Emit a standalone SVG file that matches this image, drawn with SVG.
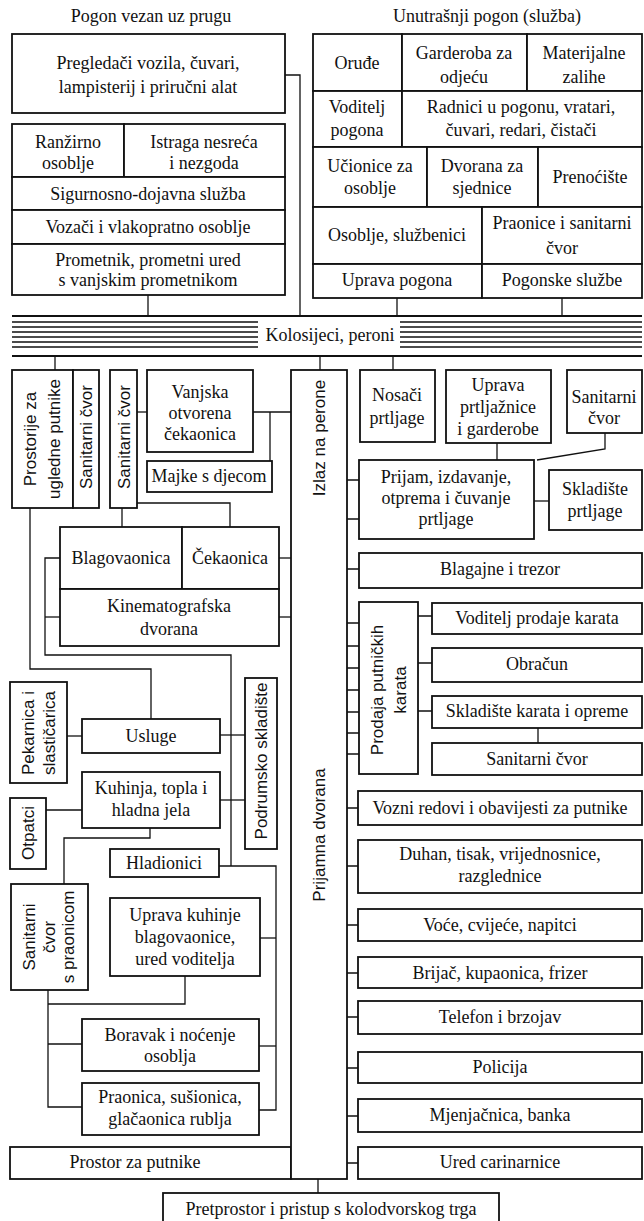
<svg xmlns="http://www.w3.org/2000/svg" width="644" height="1221" viewBox="0 0 644 1221">
<style>
.b{fill:#fff;stroke:#111;stroke-width:1.8}
.c{fill:none;stroke:#111;stroke-width:1.3}
.r{fill:none;stroke:#111;stroke-width:1.4}
.R{fill:none;stroke:#111;stroke-width:2}
.t{font-family:"Liberation Serif","Times New Roman",serif;font-size:18px;fill:#111;text-anchor:middle}
.v{font-family:"Liberation Sans",Arial,sans-serif;font-size:17px;fill:#111;text-anchor:middle;dominant-baseline:central}
</style>
<rect width="644" height="1221" fill="#fff"/>
<text class="t" x="151" y="22">Pogon vezan uz prugu</text>
<text class="t" x="487" y="22">Unutrašnji pogon (služba)</text>

<g id="connectors">
<path class="c" d="M285,75H300V316"/>
<path class="c" d="M148,295V316"/>
<path class="c" d="M397,298V316"/>
<path class="c" d="M562,298V316"/>
<path class="c" d="M55,356V370"/>
<path class="c" d="M320,356V370"/>
<path class="c" d="M393,356V370"/>
<path class="c" d="M137,412H147"/>
<path class="c" d="M253,412H291"/>
<path class="c" d="M270,412V461"/>
<path class="c" d="M122,508V527"/>
<path class="c" d="M137,503H230V527"/>
<path class="c" d="M279,558H291"/>
<path class="c" d="M279,617H291"/>
<path class="c" d="M60,558H45V655H231V866"/>
<path class="c" d="M60,617H45"/>
<path class="c" d="M30,508V669H151V719"/>
<path class="c" d="M67,736H82"/>
<path class="c" d="M220,735H245"/>
<path class="c" d="M220,800H245"/>
<path class="c" d="M46,810H82"/>
<path class="c" d="M150,828V838H64V884"/>
<path class="c" d="M219,866H276V1110H259"/>
<path class="c" d="M260,938H276"/>
<path class="c" d="M259,1046H276"/>
<path class="c" d="M185,976V1004H48"/>
<path class="c" d="M48,990V1107H82"/>
<path class="c" d="M48,1044H82"/>
<path class="c" d="M497,443V460"/>
<path class="c" d="M605,433V449L537,460"/>
<path class="c" d="M534,501H549"/>
<path class="c" d="M418,616H432M418,663H432M418,711H432"/>
<path class="c" d="M538,728V743"/>
<path class="c" d="M318,1179V1193"/>
<path class="c" d="M347,480H359M347,519H359M347,569H359M347,623H359M347,646H359M347,668H359M347,690H359M347,712H359M347,733H359M347,754H359M347,808H358M347,866H358M347,925H358M347,973H358M347,1017H358M347,1068H358M347,1116H358M347,1163H358"/>
</g>

<g id="tracks">
<path class="R" d="M12,316H642M12,356H642"/>
<path class="r" d="M12,322H258M12,327H258M12,332H258M12,337H258M12,342H258M12,347H258M400,322H642M400,327H642M400,332H642M400,337H642M400,342H642M400,347H642"/>
<text class="t" x="330" y="341">Kolosijeci, peroni</text>
</g>

<g id="pregledaci"><rect class="b" x="12" y="34" width="273" height="79"/><text class="t" x="148" y="69">Pregledači vozila, čuvari,</text><text class="t" x="148" y="93">lampisterij i priručni alat</text></g>
<g id="ranzirno"><rect class="b" x="12" y="124" width="112" height="53"/><text class="t" x="68" y="148">Ranžirno</text><text class="t" x="68" y="169">osoblje</text></g>
<g id="istraga"><rect class="b" x="124" y="124" width="161" height="53"/><text class="t" x="204" y="148">Istraga nesreća</text><text class="t" x="204" y="169">i nezgoda</text></g>
<g id="sigurnosno"><rect class="b" x="12" y="177" width="273" height="33"/><text class="t" x="148" y="200">Sigurnosno-dojavna služba</text></g>
<g id="vozaci"><rect class="b" x="12" y="210" width="273" height="34"/><text class="t" x="148" y="233">Vozači i vlakopratno osoblje</text></g>
<g id="prometnik"><rect class="b" x="12" y="244" width="273" height="51"/><text class="t" x="148" y="266">Prometnik, prometni ured</text><text class="t" x="148" y="286">s vanjskim prometnikom</text></g>

<g id="orudje"><rect class="b" x="313" y="34" width="89" height="57"/><text class="t" x="357" y="69">Oruđe</text></g>
<g id="garderoba"><rect class="b" x="402" y="34" width="125" height="57"/><text class="t" x="464" y="59">Garderoba za</text><text class="t" x="464" y="83">odjeću</text></g>
<g id="materijalne"><rect class="b" x="527" y="34" width="115" height="57"/><text class="t" x="584" y="59">Materijalne</text><text class="t" x="584" y="83">zalihe</text></g>
<g id="voditelj-pogona"><rect class="b" x="313" y="91" width="89" height="56"/><text class="t" x="357" y="113">Voditelj</text><text class="t" x="357" y="136">pogona</text></g>
<g id="radnici"><rect class="b" x="402" y="91" width="240" height="56"/><text class="t" x="521" y="113">Radnici u pogonu, vratari,</text><text class="t" x="521" y="136">čuvari, redari, čistači</text></g>
<g id="ucionice"><rect class="b" x="313" y="147" width="114" height="60"/><text class="t" x="370" y="172">Učionice za</text><text class="t" x="370" y="194">osoblje</text></g>
<g id="dvorana-sjednice"><rect class="b" x="427" y="147" width="111" height="60"/><text class="t" x="482" y="172">Dvorana za</text><text class="t" x="482" y="194">sjednice</text></g>
<g id="prenociste"><rect class="b" x="538" y="147" width="104" height="60"/><text class="t" x="590" y="183">Prenoćište</text></g>
<g id="osoblje-sluzbenici"><rect class="b" x="313" y="207" width="169" height="57"/><text class="t" x="397" y="241">Osoblje, službenici</text></g>
<g id="praonice-sanitarni"><rect class="b" x="482" y="207" width="160" height="57"/><text class="t" x="562" y="229">Praonice i sanitarni</text><text class="t" x="562" y="254">čvor</text></g>
<g id="uprava-pogona"><rect class="b" x="313" y="264" width="169" height="34"/><text class="t" x="397" y="286">Uprava pogona</text></g>
<g id="pogonske-sluzbe"><rect class="b" x="482" y="264" width="160" height="34"/><text class="t" x="562" y="286">Pogonske službe</text></g>

<g id="prostorije"><rect class="b" x="12" y="370" width="61" height="138"/><text class="v" transform="translate(30,439) rotate(-90)">Prostorije za</text><text class="v" transform="translate(54,439) rotate(-90)">ugledne putnike</text></g>
<g id="sanitarni-1"><rect class="b" x="73" y="370" width="26" height="138"/><text class="v" transform="translate(86,437) rotate(-90)">Sanitarni čvor</text></g>
<g id="sanitarni-2"><rect class="b" x="110" y="370" width="27" height="138"/><text class="v" transform="translate(124,437) rotate(-90)">Sanitarni čvor</text></g>
<g id="vanjska"><rect class="b" x="147" y="370" width="106" height="82"/><text class="t" x="200" y="398">Vanjska</text><text class="t" x="200" y="419">otvorena</text><text class="t" x="200" y="440">čekaonica</text></g>
<g id="majke"><rect class="b" x="147" y="461" width="125" height="31"/><text class="t" x="209" y="482">Majke s djecom</text></g>
<g id="blagovaonica"><rect class="b" x="60" y="527" width="122" height="62"/><text class="t" x="121" y="564">Blagovaonica</text></g>
<g id="cekaonica"><rect class="b" x="182" y="527" width="97" height="62"/><text class="t" x="230" y="564">Čekaonica</text></g>
<g id="kinematografska"><rect class="b" x="60" y="589" width="219" height="57"/><text class="t" x="169" y="612">Kinematografska</text><text class="t" x="169" y="635">dvorana</text></g>
<g id="pekarnica"><rect class="b" x="10" y="682" width="57" height="101"/><text class="v" transform="translate(28,733) rotate(-90)">Pekarnica i</text><text class="v" transform="translate(49,733) rotate(-90)">slastičarica</text></g>
<g id="usluge"><rect class="b" x="82" y="719" width="138" height="34"/><text class="t" x="151" y="742">Usluge</text></g>
<g id="podrumsko"><rect class="b" x="245" y="678" width="32" height="171"/><text class="v" transform="translate(261,761) rotate(-90)">Podrumsko skladište</text></g>
<g id="kuhinja"><rect class="b" x="82" y="772" width="138" height="56"/><text class="t" x="151" y="794">Kuhinja, topla i</text><text class="t" x="151" y="816">hladna jela</text></g>
<g id="otpatci"><rect class="b" x="10" y="798" width="36" height="71"/><text class="v" transform="translate(28,833) rotate(-90)">Otpatci</text></g>
<g id="hladionici"><rect class="b" x="110" y="849" width="109" height="28"/><text class="t" x="164" y="869">Hladionici</text></g>
<g id="sanitarni-praonica"><rect class="b" x="11" y="884" width="77" height="106"/><text class="v" transform="translate(29,937) rotate(-90)">Sanitarni</text><text class="v" transform="translate(49,937) rotate(-90)">čvor</text><text class="v" transform="translate(68,937) rotate(-90)">s praonicom</text></g>
<g id="uprava-kuhinje"><rect class="b" x="110" y="898" width="150" height="78"/><text class="t" x="185" y="921">Uprava kuhinje</text><text class="t" x="185" y="943">blagovaonice,</text><text class="t" x="185" y="965">ured voditelja</text></g>
<g id="boravak"><rect class="b" x="82" y="1019" width="177" height="52"/><text class="t" x="170" y="1041">Boravak i noćenje</text><text class="t" x="170" y="1062">osoblja</text></g>
<g id="praonica"><rect class="b" x="82" y="1083" width="177" height="52"/><text class="t" x="170" y="1103">Praonica, sušionica,</text><text class="t" x="170" y="1125">glačaonica  rublja</text></g>
<g id="prostor-putnike"><rect class="b" x="10" y="1147" width="281" height="32"/><text class="t" x="135" y="1168">Prostor za putnike</text></g>
<g id="prijamna-dvorana"><rect class="b" x="291" y="370" width="56" height="809"/><text class="v" transform="translate(319,438) rotate(-90)">Izlaz na perone</text><text class="v" transform="translate(319,835) rotate(-90)">Prijamna dvorana</text></g>
<g id="pretprostor"><rect class="b" x="163" y="1193" width="336" height="40"/><text class="t" x="331" y="1215">Pretprostor i pristup s kolodvorskog trga</text></g>

<g id="nosaci"><rect class="b" x="360" y="370" width="75" height="72"/><text class="t" x="397" y="401">Nosači</text><text class="t" x="397" y="424">prtljage</text></g>
<g id="uprava-prtljaznice"><rect class="b" x="446" y="370" width="105" height="73"/><text class="t" x="498" y="391">Uprava</text><text class="t" x="498" y="413">prtljažnice</text><text class="t" x="498" y="435">i  garderobe</text></g>
<g id="sanitarni-r1"><rect class="b" x="567" y="370" width="75" height="63"/><text class="t" x="604" y="403">Sanitarni</text><text class="t" x="604" y="424">čvor</text></g>
<g id="prijam"><rect class="b" x="359" y="460" width="175" height="79"/><text class="t" x="446" y="483">Prijam, izdavanje,</text><text class="t" x="446" y="504">otprema i čuvanje</text><text class="t" x="446" y="525">prtljage</text></g>
<g id="skladiste-prtljage"><rect class="b" x="549" y="470" width="93" height="60"/><text class="t" x="595" y="495">Skladište</text><text class="t" x="595" y="517">prtljage</text></g>
<g id="blagajne"><rect class="b" x="359" y="553" width="283" height="35"/><text class="t" x="500" y="575">Blagajne i trezor</text></g>
<g id="prodaja"><rect class="b" x="359" y="602" width="59" height="172"/><text class="v" transform="translate(377,690) rotate(-90)">Prodaja putničkih</text><text class="v" transform="translate(400,690) rotate(-90)">karata</text></g>
<g id="voditelj-prodaje"><rect class="b" x="432" y="603" width="210" height="31"/><text class="t" x="537" y="624">Voditelj prodaje karata</text></g>
<g id="obracun"><rect class="b" x="432" y="648" width="210" height="34"/><text class="t" x="537" y="670">Obračun</text></g>
<g id="skladiste-karata"><rect class="b" x="432" y="696" width="210" height="32"/><text class="t" x="537" y="717">Skladište karata i opreme</text></g>
<g id="sanitarni-r2"><rect class="b" x="432" y="743" width="210" height="32"/><text class="t" x="537" y="765">Sanitarni čvor</text></g>
<g id="vozni-redovi"><rect class="b" x="358" y="791" width="284" height="34"/><text class="t" x="500" y="814">Vozni redovi i  obavijesti za putnike</text></g>
<g id="duhan"><rect class="b" x="358" y="840" width="284" height="53"/><text class="t" x="500" y="860">Duhan, tisak, vrijednosnice,</text><text class="t" x="500" y="882">razglednice</text></g>
<g id="voce"><rect class="b" x="358" y="909" width="284" height="32"/><text class="t" x="500" y="931">Voće, cvijeće, napitci</text></g>
<g id="brijac"><rect class="b" x="358" y="957" width="284" height="31"/><text class="t" x="500" y="979">Brijač, kupaonica, frizer</text></g>
<g id="telefon"><rect class="b" x="358" y="1001" width="284" height="33"/><text class="t" x="500" y="1023">Telefon i brzojav</text></g>
<g id="policija"><rect class="b" x="358" y="1052" width="284" height="31"/><text class="t" x="500" y="1073">Policija</text></g>
<g id="mjenjacnica"><rect class="b" x="358" y="1099" width="284" height="33"/><text class="t" x="500" y="1121">Mjenjačnica, banka</text></g>
<g id="ured-carinarnice"><rect class="b" x="358" y="1147" width="284" height="32"/><text class="t" x="500" y="1168">Ured carinarnice</text></g>
</svg>
